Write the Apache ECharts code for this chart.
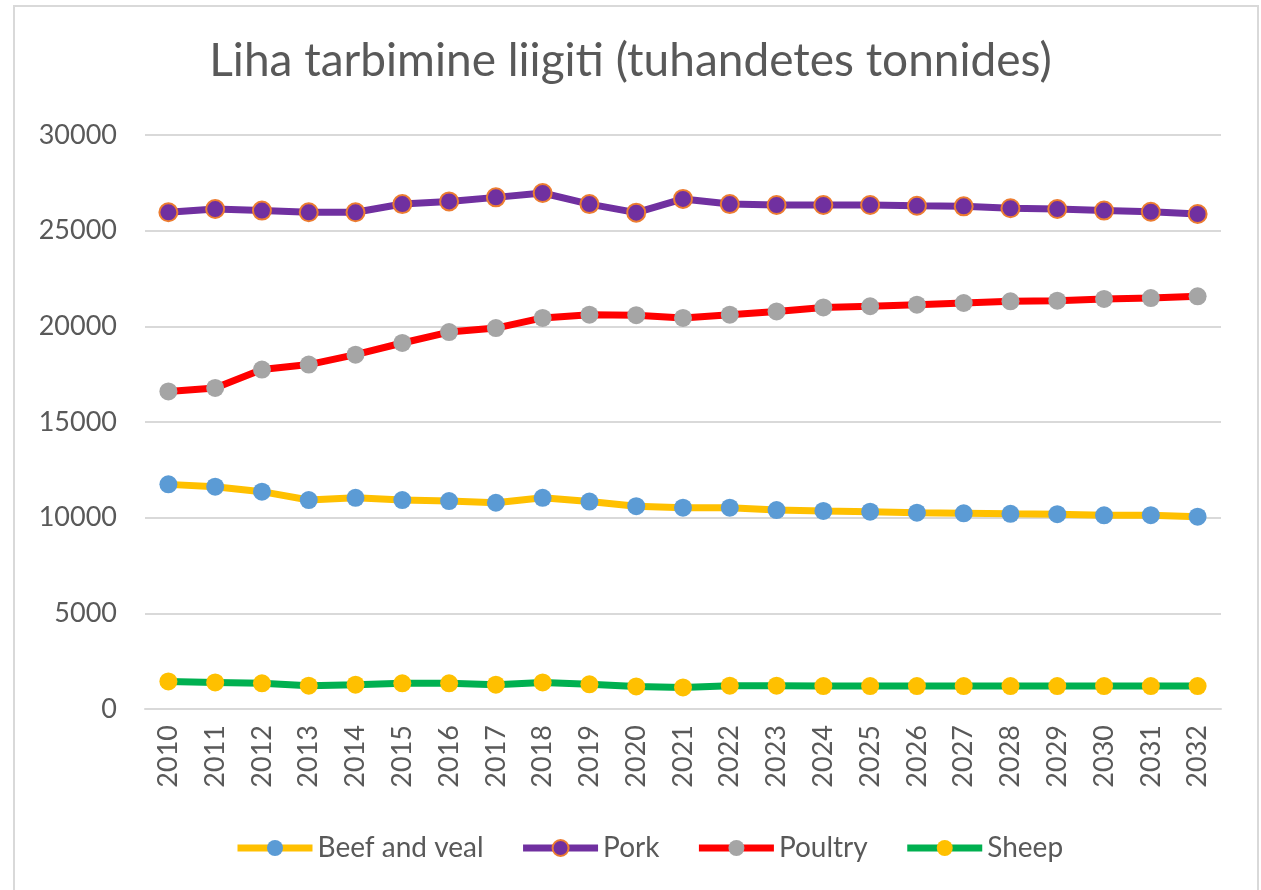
<!DOCTYPE html>
<html><head><meta charset="utf-8">
<script src="https://cdn.jsdelivr.net/npm/echarts@6/dist/echarts.min.js"></script>
<style>html,body{margin:0;padding:0;background:#fff}#c{width:1261px;height:890px}</style>
</head><body><div id="c"></div>
<script>
const years = ['2010','2011','2012','2013','2014','2015','2016','2017','2018','2019','2020','2021','2022','2023','2024','2025','2026','2027','2028','2029','2030','2031','2032'];
const beefAndVeal = [11740,11620,11360,10920,11040,10920,10870,10780,11040,10840,10600,10520,10520,10400,10350,10310,10260,10230,10200,10180,10120,10130,10050];
const pork = [25960,26130,26050,25960,25960,26390,26530,26740,26970,26390,25940,26660,26390,26340,26340,26340,26300,26270,26170,26130,26050,25990,25870];
const poultry = [16600,16780,17740,18000,18520,19130,19700,19910,20440,20610,20580,20440,20610,20780,20990,21050,21130,21220,21310,21340,21430,21480,21570];
const sheep = [1440,1390,1340,1220,1270,1340,1340,1270,1390,1290,1180,1130,1220,1220,1200,1200,1200,1200,1200,1200,1200,1200,1200];
const yTicks = [0,5000,10000,15000,20000,25000,30000];

const FONT = 'Lato';
const TXT = '#595959';
function mk(name, data, lineColor, fill, border) {
  return {
    name, type: 'line', data,
    symbol: 'circle', symbolSize: 18,
    lineStyle: { color: lineColor, width: 7 },
    itemStyle: { color: fill, borderColor: border || fill, borderWidth: border ? 2 : 0 },
    emphasis: { disabled: true },
    z: 2
  };
}
const chart = echarts.init(document.getElementById('c'));
chart.setOption({
  animation: false,
  backgroundColor: '#fff',
  graphic: [{ type: 'rect', shape: { x: 14, y: 6, width: 1244, height: 900 }, style: { fill: 'none', stroke: '#D9D9D9', lineWidth: 2 }, silent: true }],
  title: { text: 'Liha tarbimine liigiti (tuhandetes tonnides)', left: 'center', top: 33,
    textStyle: { fontFamily: FONT, fontSize: 46, fontWeight: 'normal', color: TXT } },
  grid: { left: 145, right: 40, top: 135, bottom: 181 },
  legend: { left: 229, top: 829, itemWidth: 75, itemHeight: 20, itemGap: 36,
    lineStyle: { width: 7 },
    textStyle: { fontFamily: FONT, fontSize: 28, color: TXT } },
  xAxis: { type: 'category', data: years, boundaryGap: true,
    axisLine: { lineStyle: { color: '#D9D9D9', width: 2 } }, axisTick: { show: false },
    axisLabel: { rotate: 90, margin: 16, fontFamily: FONT, fontSize: 27, color: TXT } },
  yAxis: { type: 'value', min: yTicks[0], max: yTicks[yTicks.length - 1], interval: 5000,
    axisLine: { show: false }, axisTick: { show: false },
    splitLine: { lineStyle: { color: '#D9D9D9', width: 2 } },
    axisLabel: { margin: 28, fontFamily: FONT, fontSize: 27, color: TXT, formatter: v => String(v) } },
  series: [
    mk('Beef and veal', beefAndVeal, '#FFC000', '#5B9BD5'),
    mk('Pork', pork, '#7030A0', '#7030A0', '#ED7D31'),
    mk('Poultry', poultry, '#FF0000', '#A5A5A5'),
    mk('Sheep', sheep, '#00B050', '#FFC000')
  ]
});
</script></body></html>
